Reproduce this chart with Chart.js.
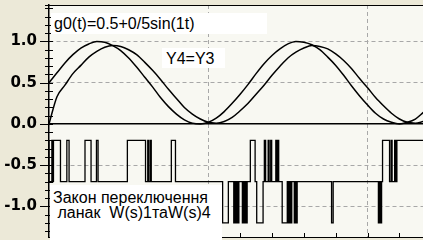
<!DOCTYPE html>
<html>
<head>
<meta charset="utf-8">
<script src="https://cdn.jsdelivr.net/npm/chart.js@4.4.1/dist/chart.umd.min.js"></script>
<style>
html, body { margin: 0; padding: 0; background: #ECE9D8; }
#wrap { position: relative; width: 423px; height: 240px; overflow: hidden; }
.note { position: absolute; background: #fff; color: #000; white-space: pre;
        font: 16px "Liberation Sans", Arial, sans-serif; }
</style>
</head>
<body>
<div id="wrap">
  <canvas id="myChart" width="423" height="240"></canvas>
  <div class="note" style="left:51px;top:13px;width:213px;height:21px;line-height:21px;padding-left:3px;">g0(t)=0.5+0/5sin(1t)</div>
  <div class="note" style="left:162px;top:48px;width:59px;height:20px;line-height:22px;padding-left:4px;">Y4=Y3</div>
  <div class="note" style="left:50px;top:185px;width:169px;height:50px;line-height:15px;padding:5px 0 0 3px;">Закон переключення
 ланак  W(s)1таW(s)4</div>
</div>
<script>
'use strict'

// time points (s) at which the two upper curves were read
var tSine = [0, 0.25, 0.5, 0.75, 1, 1.25, 1.5, 1.75, 2, 2.25, 2.5, 2.75,
             3, 3.25, 3.5, 3.75, 4, 4.25, 4.5, 4.75, 5, 5.25, 5.5, 5.75,
             6, 6.25, 6.5, 6.75, 7, 7.25, 7.5, 7.75, 8, 8.25, 8.5, 8.75,
             9, 9.25, 9.5, 9.75, 10, 10.25, 10.5, 10.75, 11, 11.25, 11.5, 11.75];

// g0(t) input
var gInput = [0.50, 0.62, 0.74, 0.84, 0.92, 0.97, 1.00, 0.99, 0.95, 0.89, 0.80, 0.69,
              0.57, 0.45, 0.32, 0.21, 0.12, 0.05, 0.01, 0.00, 0.02, 0.07, 0.15, 0.25,
              0.36, 0.48, 0.61, 0.73, 0.83, 0.91, 0.97, 1.00, 0.99, 0.96, 0.90, 0.81,
              0.71, 0.59, 0.46, 0.34, 0.23, 0.13, 0.06, 0.02, 0.00, 0.02, 0.06, 0.14];

// Y4 = Y3 output
var yOutput = [0.00, 0.33, 0.47, 0.61, 0.71, 0.81, 0.88, 0.93, 0.95, 0.94, 0.90, 0.84,
               0.75, 0.65, 0.54, 0.42, 0.31, 0.20, 0.12, 0.06, 0.02, 0.01, 0.03, 0.08,
               0.16, 0.25, 0.36, 0.47, 0.59, 0.70, 0.80, 0.87, 0.92, 0.95, 0.94, 0.91,
               0.85, 0.77, 0.67, 0.55, 0.44, 0.32, 0.22, 0.13, 0.06, 0.02, 0.01, 0.03];

// switching law: time of each switch and the level held after it
var switchTimes = [0, 0.09, 0.13, 0.14, 0.36, 0.56, 0.63, 1.13, 1.32, 1.49, 1.54,
                   2.46, 3.03, 3.10, 3.13, 3.18, 3.21, 3.84, 3.97,
                   5.45, 5.63, 5.80, 5.83, 5.86, 5.89, 5.92, 5.96,
                   6.07, 6.10, 6.13, 6.16, 6.19, 6.22, 6.32, 6.47, 6.52, 6.72, 6.76,
                   6.80, 6.88, 6.91, 6.96, 6.99, 7.12, 7.15, 7.18, 7.21, 7.32,
                   7.48, 7.52, 7.55, 7.59, 7.62, 7.70, 7.73, 7.76, 7.79,
                   8.87, 8.92, 10.34, 10.38, 10.41, 10.44, 10.47,
                   10.69, 10.74, 10.77, 10.85, 10.88, 10.92, 10.94, 11.74];
var switchLevels = [-0.2, -0.7, -0.2, -0.7, -0.2, -0.7, -0.2, -0.7, -0.2, -0.7, -0.2,
                    -0.7, -0.2, -0.7, -0.2, -0.7, -0.2, -0.7, -0.2,
                    -0.7, -1.2, -0.7, -1.2, -0.7, -1.2, -0.7, -1.2,
                    -0.7, -1.2, -0.7, -1.2, -0.7, -1.2, -0.7, -0.2, -0.7, -1.2, -0.7,
                    -0.2, -0.7, -0.2, -0.7, -0.2, -0.7, -0.2, -0.7, -0.2, -0.7,
                    -1.2, -0.7, -1.2, -0.7, -1.2, -0.7, -1.2, -0.7, -1.2,
                    -0.7, -1.2, -0.7, -1.2, -0.7, -1.2, -0.7,
                    -0.2, -0.7, -0.2, -0.7, -0.2, -0.7, -0.2, -0.2];

var yTickValues = [-1.0, -0.5, 0.0, 0.5, 1.0];

function pairs(xs, ys) {
    return xs.map(function (x, i) { return { x: x, y: ys[i] }; });
}

/* background, top frame line and the little axis ticks */
var frame = {
    id: 'frame',
    beforeDraw: function (chart) {
        var ctx = chart.ctx, a = chart.chartArea;
        ctx.save();
        ctx.fillStyle = '#ECE9D8';
        ctx.fillRect(0, 0, chart.width, chart.height);
        ctx.fillStyle = '#F8F8F2';
        ctx.fillRect(a.left, a.top, a.right - a.left, a.bottom - a.top);
        ctx.restore();
    },
    afterDraw: function (chart) {
        var ctx = chart.ctx, a = chart.chartArea;
        var xs = chart.scales.x, ys = chart.scales.y;
        ctx.save();
        ctx.strokeStyle = '#000';
        ctx.lineWidth = 1;
        ctx.beginPath();
        ctx.moveTo(a.left - 4, a.top + 0.5);
        ctx.lineTo(a.right, a.top + 0.5);
        for (var i = -13; i <= 14; i++) {
            var py = Math.round(ys.getPixelForValue(i / 10)) + 0.5;
            var major = i % 5 === 0;
            ctx.moveTo(a.left - (major ? 9 : 4), py);
            ctx.lineTo(a.left + 4, py);
        }
        for (var t = 1; t <= 11; t++) {
            var px = Math.round(xs.getPixelForValue(t)) + 0.5;
            ctx.moveTo(px, a.bottom);
            ctx.lineTo(px, a.bottom - 4);
        }
        ctx.stroke();
        ctx.restore();
    }
};

function noPad(s) {
    s.paddingTop = 0; s.paddingBottom = 0; s.paddingLeft = 0; s.paddingRight = 0;
}

var ctx = document.getElementById('myChart').getContext('2d');

var myChart = new Chart(ctx, {
    type: 'line',
    data: {
        datasets: [{
            label: 'switch',
            data: pairs(switchTimes, switchLevels),
            stepped: 'after',
            borderColor: '#000',
            borderWidth: 1.3,
            pointRadius: 0
        }, {
            label: 'g0',
            data: pairs(tSine, gInput),
            cubicInterpolationMode: 'monotone',
            borderColor: '#000',
            borderWidth: 1.5,
            pointRadius: 0
        }, {
            label: 'Y4',
            data: pairs(tSine, yOutput),
            cubicInterpolationMode: 'monotone',
            borderColor: '#000',
            borderWidth: 1.5,
            pointRadius: 0
        }]
    },
    options: {
        responsive: false,
        animation: false,
        events: [],
        layout: { padding: { top: 5, left: 0, right: 0, bottom: 0 } },
        plugins: { legend: { display: false }, tooltip: { enabled: false } },
        scales: {
            x: {
                type: 'linear',
                min: 0,
                max: 11.74,
                ticks: { display: false, stepSize: 1 },
                afterBuildTicks: function (s) {
                    s.ticks = s.ticks.filter(function (t) { return Math.abs(t.value - Math.round(t.value)) < 1e-6; });
                },
                afterFit: function (s) { s.height = 3; noPad(s); },
                grid: {
                    drawTicks: false,
                    color: function (c) {
                        return c.tick && c.tick.value > 0 && c.tick.value % 5 === 0 ? '#A8A8A8' : 'rgba(0,0,0,0)';
                    }
                },
                border: {
                    color: '#000', width: 1,
                    dash: function (c) { return c.tick ? [4, 3] : []; }
                }
            },
            y: {
                min: -1.37,
                max: 1.442,
                afterBuildTicks: function (s) {
                    s.ticks = yTickValues.map(function (v) { return { value: v }; });
                },
                afterFit: function (s) { s.width = 49; noPad(s); },
                ticks: {
                    padding: 12,
                    color: '#000',
                    font: { family: 'DejaVu Sans', weight: 'bold', size: 15 },
                    callback: function (v) { return Number(v).toFixed(1); }
                },
                grid: {
                    drawTicks: false,
                    color: function (c) {
                        if (!c.tick) return 'rgba(0,0,0,0)';
                        return c.tick.value === 0 ? '#000' : '#A8A8A8';
                    },
                    lineWidth: function (c) { return c.tick && c.tick.value === 0 ? 1.5 : 1; }
                },
                border: {
                    color: '#000', width: 1.5,
                    dash: function (c) {
                        if (!c.tick) return [];
                        return c.tick.value === 0 ? [] : [4, 3];
                    }
                }
            }
        }
    },
    plugins: [frame]
});
</script>
</body>
</html>
